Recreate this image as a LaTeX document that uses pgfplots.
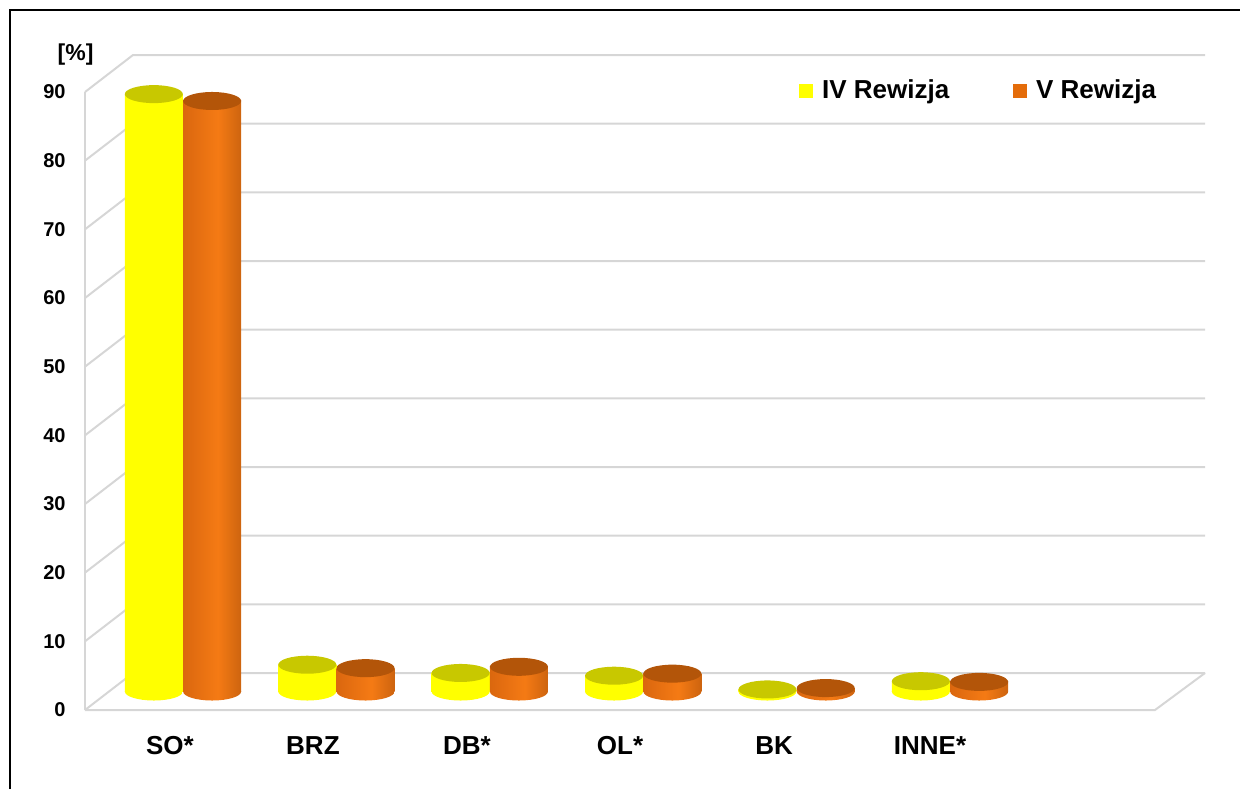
\documentclass[border=0pt]{standalone}
\usepackage{fontspec}
\setmainfont{Liberation Sans}
\usepackage{pgfplots}
\pgfplotsset{compat=1.18}
\definecolor{gridc}{HTML}{D6D6D6}
\definecolor{ytop}{HTML}{C8C800}
\definecolor{otop}{HTML}{B35509}
\definecolor{legy}{HTML}{FFFF00}
\definecolor{lego}{HTML}{E46C0A}
\pgfdeclarehorizontalshading{ycyl}{100bp}{color(0bp)=(yellow!78!black); color(22bp)=(yellow); color(80bp)=(yellow); color(100bp)=(yellow!86!black)}
\pgfdeclarehorizontalshading{ocyl}{100bp}{rgb(0bp)=(0.77,0.34,0.04); rgb(55bp)=(0.96,0.48,0.08); rgb(100bp)=(0.61,0.28,0.03)}
\pgfdeclareplotmark{ytopm}{\pgfsetfillcolor{ytop}\pgfpathellipse{\pgfpointorigin}{\pgfqpoint{14.5pt}{0pt}}{\pgfqpoint{0pt}{4.5pt}}\pgfusepathqfill}
\pgfdeclareplotmark{otopm}{\pgfsetfillcolor{otop}\pgfpathellipse{\pgfpointorigin}{\pgfqpoint{14.5pt}{0pt}}{\pgfqpoint{0pt}{4.5pt}}\pgfusepathqfill}
\pgfdeclareplotmark{ybotm}{\pgfpathellipse{\pgfpointorigin}{\pgfqpoint{14.5pt}{0pt}}{\pgfqpoint{0pt}{4.5pt}}\pgfshadepath{ycyl}{0}\pgfusepath{}}
\pgfdeclareplotmark{obotm}{\pgfpathellipse{\pgfpointorigin}{\pgfqpoint{14.5pt}{0pt}}{\pgfqpoint{0pt}{4.5pt}}\pgfshadepath{ocyl}{0}\pgfusepath{}}
% one cylinder: x position, value, series prefix (y or o)
\newcommand{\cyl}[3]{%
  \addplot[only marks, mark=#3botm, forget plot] coordinates {(#1,0)};
  \addplot[ybar, bar width=29pt, bar shift=0pt, draw=none, shade, shading=#3cyl, shading angle=0, forget plot] coordinates {(#1,#2)};
  \addplot[only marks, mark=#3topm, forget plot] coordinates {(#1,#2)};
}
\begin{document}
\begin{tikzpicture}
\useasboundingbox (0,0) rectangle (620pt,394.5pt);
\draw[black, line width=1pt] (5pt,0) -- (5pt,389.5pt) -- (620pt,389.5pt);
\node[font=\fontsize{11.5}{13}\selectfont\bfseries] at (37.8pt,367pt) {[\%]};
\begin{axis}[
  at={(53.15pt,48.75pt)}, anchor=south west,
  scale only axis, width=536.9pt, height=309pt,
  xmin=-0.5, xmax=6.5, ymin=0, ymax=90,
  axis line style={draw=none}, major tick length=0pt,
  ytick={0,10,...,90},
  xtick={-0.085,0.847,1.851,2.849,3.853,4.870},
  xticklabels={SO*,BRZ,DB*,OL*,BK,INNE*},
  clip=false,
  /pgf/number format/assume math mode=true,
  yticklabel style={font=\fontsize{10}{12}\selectfont\bfseries, anchor=east, inner sep=0pt, xshift=-20.15pt, yshift=-9.25pt},
  xticklabel style={font=\fontsize{13}{15}\selectfont\bfseries, anchor=base, inner sep=0pt, yshift=-31.5pt},
  legend columns=2,
  legend style={draw=none, fill=none, at={(0.645,0.972)}, anchor=west, inner sep=0pt,
    font=\fontsize{13}{15}\selectfont\bfseries,
    /tikz/every even column/.append style={column sep=30pt}},
  legend image code/.code={\fill[#1] (0pt,-3.25pt) rectangle (6.5pt,3.25pt); \path (9pt,0pt);},
]
\pgfplotsinvokeforeach{0,10,20,30,40,50,60,70,80,90}{
  \draw[gridc, line width=1pt] ([xshift=-10.65pt,yshift=-9.25pt]axis cs:-0.5,#1) -- ([xshift=13.35pt,yshift=9.25pt]axis cs:-0.5,#1) -- ([xshift=12.45pt,yshift=9.25pt]axis cs:6.5,#1);
}
\draw[gridc, line width=1pt] ([xshift=-10.65pt,yshift=-9.25pt]axis cs:-0.5,0) -- ([xshift=-10.65pt,yshift=-9.25pt]axis cs:-0.5,90);
\draw[gridc, line width=1pt] ([xshift=-10.65pt,yshift=-9.25pt]axis cs:-0.5,0) -- ([xshift=-12.55pt,yshift=-9.25pt]axis cs:6.5,0) -- ([xshift=12.45pt,yshift=9.25pt]axis cs:6.5,0);

% SO*
\cyl{-0.19}{87}{y}
\cyl{0.19}{86}{o}
% BRZ
\cyl{0.81}{3.9}{y}
\cyl{1.19}{3.4}{o}
% DB*
\cyl{1.81}{2.7}{y}
\cyl{2.19}{3.6}{o}
% OL*
\cyl{2.81}{2.3}{y}
\cyl{3.19}{2.6}{o}
% BK
\cyl{3.81}{0.3}{y}
\cyl{4.19}{0.5}{o}
% INNE*
\cyl{4.81}{1.5}{y}
\cyl{5.19}{1.4}{o}

\addlegendimage{legy}
\addlegendentry{IV Rewizja}
\addlegendimage{lego}
\addlegendentry{V Rewizja}
\end{axis}
\end{tikzpicture}
\end{document}
